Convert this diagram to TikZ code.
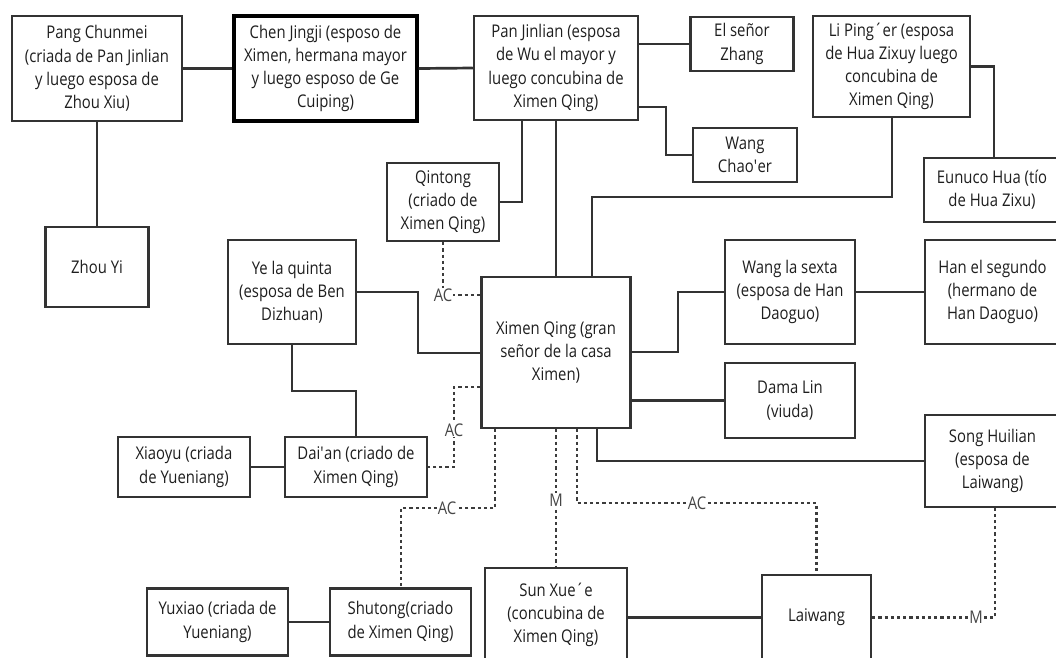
\documentclass[tikz,border=0pt]{standalone}
\usepackage{fontspec}
\setmainfont{Open Sans}[FakeStretch=0.85]
\definecolor{ink}{HTML}{333333}
\definecolor{txt}{HTML}{1E1E1E}
\definecolor{dashc}{HTML}{3C3C3C}
\definecolor{labc}{HTML}{464646}
\begin{document}
\begin{tikzpicture}[x=1pt,y=-1pt,
  box/.style={draw=ink, line width=2.5pt, fill=white, inner sep=0pt, align=center,
    text=txt, font=\fontsize{17.5}{23.2}\selectfont},
  boldbox/.style={box, draw=black, line width=3.4pt},
  link/.style={draw=ink, line width=2.7pt},
  rel/.style={draw=dashc, line width=2.6pt, dash pattern=on 3.2pt off 3pt},
  tag/.style={fill=white, inner sep=1pt, text=labc, font=\fontsize{17.5}{18}\selectfont}]
\useasboundingbox (0,0) rectangle (1056,657);
\fill[white] (0,0) rectangle (1056,657);
\clip (0,0) rectangle (1056,657);

% --- people ---
\node[box, minimum width=170pt, minimum height=105pt] (pang) at (97,68.5)
  {Pang Chunmei\\(criada de Pan Jinlian\\y luego esposa de\\Zhou Xiu)};
\node[boldbox, minimum width=183pt, minimum height=105pt] (chen) at (325.5,68.5)
  {Chen Jingji (esposo de\\Ximen, hermana mayor\\y luego esposo de Ge\\Cuiping)};
\node[box, minimum width=164pt, minimum height=104pt] (pan) at (556,68)
  {Pan Jinlian (esposa\\de Wu el mayor y\\luego concubina de\\Ximen Qing)};
\node[box, minimum width=103pt, minimum height=54pt] (zhang) at (742,44)
  {El señor\\Zhang};
\node[box, minimum width=104pt, minimum height=54pt] (chaoer) at (745,155)
  {Wang\\Chao\textquotesingle er};
\node[box, minimum width=157pt, minimum height=101pt] (li) at (891.5,66.5)
  {Li Ping´er (esposa\\de Hua Zixuy luego\\concubina de\\Ximen Qing)};
\node[box, minimum width=136pt, minimum height=64pt] (eunuco) at (992,190)
  {Eunuco Hua (tío\\de Hua Zixu)};
\node[box, minimum width=103pt, minimum height=80pt] (zhouyi) at (97,267)
  {Zhou Yi};
\node[box, minimum width=112pt, minimum height=78pt] (qintong) at (443,202)
  {Qintong\\(criado de\\Ximen Qing)};
\node[box, minimum width=128pt, minimum height=104pt] (ye) at (292,292)
  {Ye la quinta\\(esposa de Ben\\Dizhuan)};
\node[box, minimum width=149pt, minimum height=151pt] (ximen) at (556,352.5)
  {Ximen Qing (gran\\señor de la casa\\Ximen)};
\node[box, minimum width=130pt, minimum height=104pt] (wang6) at (790,292)
  {Wang la sexta\\(esposa de Han\\Daoguo)};
\node[box, minimum width=135pt, minimum height=104pt] (han) at (992.5,292)
  {Han el segundo\\(hermano de\\Han Daoguo)};
\node[box, minimum width=130pt, minimum height=75pt] (dama) at (790,400.5)
  {Dama Lin\\(viuda)};
\node[box, minimum width=132pt, minimum height=60pt] (xiaoyu) at (184,467)
  {Xiaoyu (criada\\de Yueniang)};
\node[box, minimum width=142pt, minimum height=60pt] (daian) at (356,467)
  {Dai\textquotesingle an (criado de\\Ximen Qing)};
\node[box, minimum width=135pt, minimum height=92pt] (song) at (992.5,461)
  {Song Huilian\\(esposa de\\Laiwang)};
\node[box, minimum width=141pt, minimum height=67pt] (yuxiao) at (217.5,622)
  {Yuxiao (criada de\\Yueniang)};
\node[box, minimum width=141pt, minimum height=67pt] (shutong) at (400.5,622)
  {Shutong(criado\\de Ximen Qing)};
\node[box, minimum width=142pt, minimum height=94pt] (sun) at (556,615)
  {Sun Xue´e\\(concubina de\\Ximen Qing)};
\node[box, minimum width=109pt, minimum height=85pt] (laiwang) at (816.5,617.5)
  {Laiwang};

% --- solid ties ---
\draw[link] (pang.east) -- (chen.west);
\draw[link] (chen.east) -- (pan.west);
\draw[link] (pang.south) -- (zhouyi.north);
\draw[link] (pan.east |- zhang.west) -- (zhang.west);
\draw[link] (pan.east |- 0,107) -- (666,107) |- (chaoer.west);
\draw[link] (pan.south -| 522,0) |- (qintong.east);
\draw[link] (pan.south) -- (ximen.north -| pan.south);
\draw[link] (li.east) -| (eunuco.north -| 994,0);
\draw[link] (li.south -| 892,0) -- (892,197) -| (ximen.north -| 592,0);
\draw[link] (ye.east) -- (418,292) |- (ximen.west |- 0,353);
\draw[link] (ye.south) -- (292,391) -| (daian.north);
\draw[link] (ximen.east |- 0,352) -- (678,352) |- (wang6.west);
\draw[link] (wang6.east) -- (han.west);
\draw[link] (ximen.east |- dama.west) -- (dama.west);
\draw[link] (ximen.south -| 597,0) |- (song.west);
\draw[link] (xiaoyu.east) -- (daian.west);
\draw[link] (yuxiao.east) -- (shutong.west);
\draw[link] (sun.east |- laiwang.west) -- (laiwang.west);

% --- dotted ties with labels ---
\draw[rel] (qintong.south) |- node[tag, pos=0.5] {AC} (ximen.west |- 0,295);
\draw[rel] (ximen.west |- 0,387) -- (454,387) -- (454,430) node[tag] {AC}
  -- (454,467) -- (daian.east);
\draw[rel] (ximen.south -| 495,0) -- (495,508) -- (447,508) node[tag] {AC}
  -- (401,508) -- (shutong.north -| 401,0);
\draw[rel] (ximen.south -| sun.north) -- (556,500) node[tag] {M} -- (sun.north);
\draw[rel] (ximen.south -| 577,0) -- (577,503) -- (697,503) node[tag] {AC}
  -- (laiwang.north |- 0,503) -- (laiwang.north);
\draw[rel] (laiwang.east) -- (976,617.5) node[tag] {M} -- (995,617.5)
  -- (song.south -| 995,0);
\end{tikzpicture}
\end{document}
